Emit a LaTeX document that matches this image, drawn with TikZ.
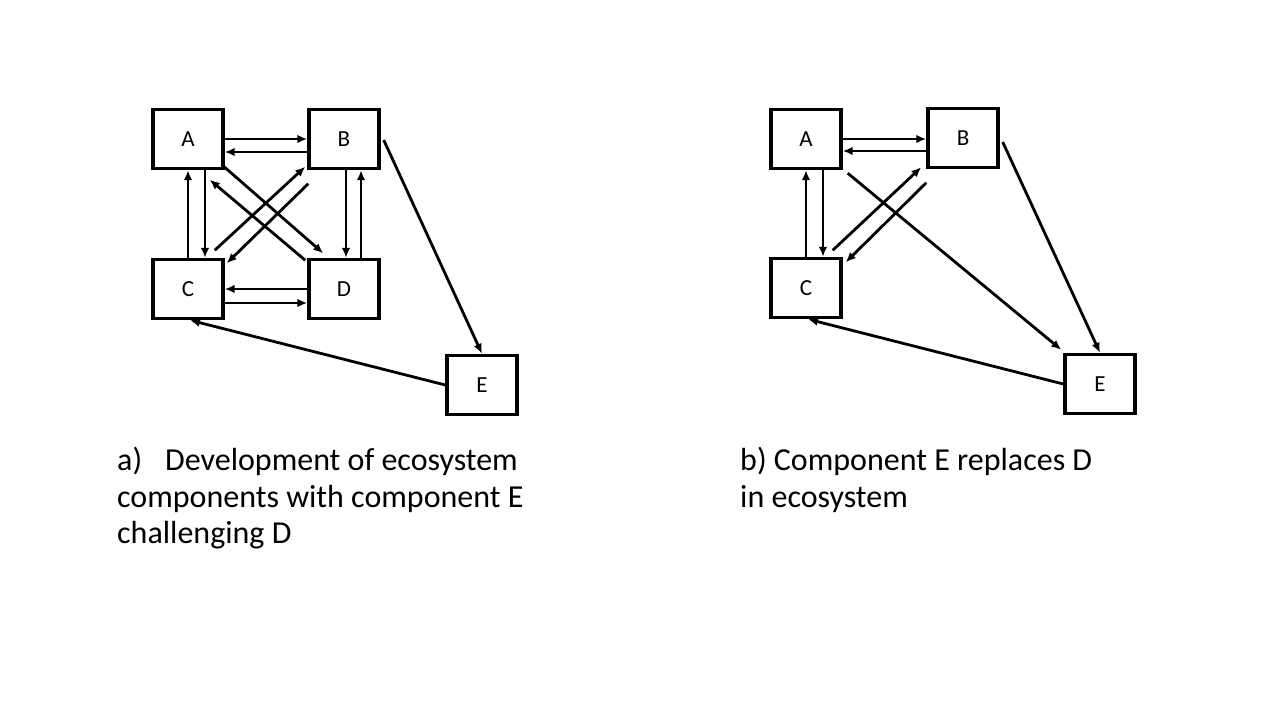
\documentclass[tikz,border=0pt]{standalone}
\usepackage{fontspec}
\setmainfont{Carlito}
\usetikzlibrary{arrows.meta}

\begin{document}
\begin{tikzpicture}[x=1pt, y=-1pt,
	box/.style={draw, line width=3.4pt, minimum width=70pt, minimum height=59pt, inner sep=0pt, font=\fontsize{23}{27}\selectfont},
	arr/.style={->, >={Latex[length=10pt,width=8.5pt]}, line width=2.8pt},
	captext/.style={anchor=north west, inner sep=0pt, align=left, font=\fontsize{32}{36.5}\selectfont}]
	\useasboundingbox (0,0) rectangle (1280,720);
	% a)
	\node[box] (A1) at (188,139) {A};
	\node[box] (B1) at (344,139) {B};
	\node[box] (C1) at (188,289) {C};
	\node[box] (D1) at (344,289) {D};
	\node[box] (E1) at (482,385) {E};
	\draw[arr] (A1.east) -- (B1.west);
	\draw[arr] ([yshift=-13]B1.west) -- ([yshift=-13]A1.east);
	\draw[arr] ([xshift=17]A1.south) -- ([xshift=17]C1.north);
	\draw[arr] (C1.north) -- (A1.south);
	\draw[arr] ([xshift=2]B1.south) -- ([xshift=2]D1.north);
	\draw[arr] ([xshift=17]D1.north) -- ([xshift=17]B1.south);
	\draw[arr] (D1.west) -- (C1.east);
	\draw[arr] ([yshift=-14]C1.east) -- ([yshift=-14]D1.west);
	\draw[arr] ([shift={(-3,-5.5)}]A1.south east) -- ([shift={(16,-4.5)}]D1.north west);
	\draw[arr] ([shift={(-2,2.5)}]D1.north west) -- ([shift={(-15,9.5)}]A1.south east);
	\draw[arr] ([shift={(-10,-7.5)}]C1.north east) -- ([shift={(-2,-3.5)}]B1.south west);
	\draw[arr] ([shift={(1,13.5)}]B1.south west) -- ([shift={(2,5.5)}]C1.north east);
	\draw[arr] ([shift={(3,1)}]B1.east) -- (E1.north);
	\draw[arr] (E1.west) -- ([xshift=2]C1.south);
	\node[captext] (capa) at (117,447) {\makebox[48pt][l]{a)}Development of ecosystem\\components with component E\\challenging D};
	% b)
	\node[box] (A2) at (806,139) {A};
	\node[box] (B2) at (963,138) {B};
	\node[box] (C2) at (806,288) {C};
	\node[box] (E2) at (1100,384) {E};
	\draw[arr] (A2.east) -- (A2.east -| B2.west);
	\draw[arr] ([yshift=-13]B2.west) -- ([yshift=-13]B2.west -| A2.east);
	\draw[arr] ([xshift=17]A2.south) -- ([xshift=17]C2.north);
	\draw[arr] (C2.north) -- (A2.south);
	\draw[arr] ([shift={(-10,-6.5)}]C2.north east) -- ([shift={(-5,-2)}]B2.south west);
	\draw[arr] ([shift={(0,13.5)}]B2.south west) -- ([shift={(3,5.5)}]C2.north east);
	\draw[arr] ([shift={(5,3)}]A2.south east) -- ([shift={(-2,-3)}]E2.north west);
	\draw[arr] ([shift={(3,4)}]B2.east) -- (E2.north);
	\draw[arr] (E2.west) -- ([xshift=2]C2.south);
	\node[captext] (capb) at (740,447) {b) Component E replaces D\\in ecosystem};
\end{tikzpicture}
\end{document}
